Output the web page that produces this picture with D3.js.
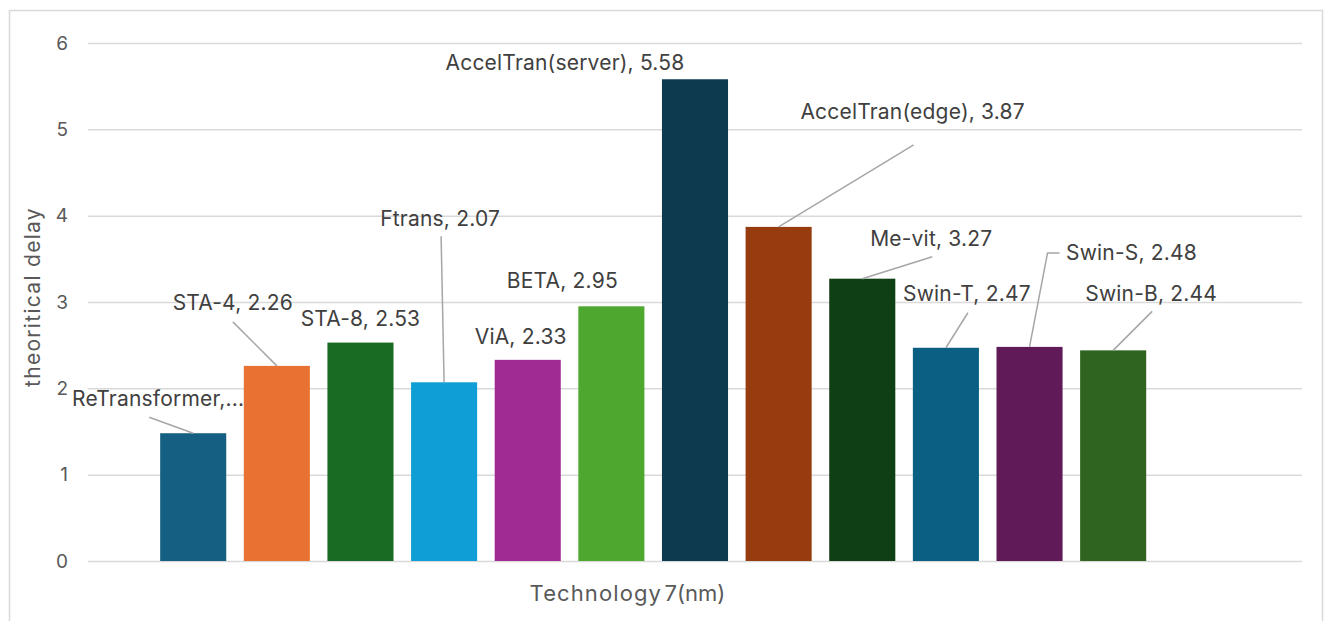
<!DOCTYPE html>
<html>
<head>
<meta charset="utf-8">
<script src="https://cdn.jsdelivr.net/npm/d3@7"></script>
<style>
  html, body { margin: 0; padding: 0; background: #ffffff; }
  svg { display: block; }
  text { font-family: Inter, "Open Sans", sans-serif; }
</style>
</head>
<body>
<svg id="chart" width="1328" height="621"></svg>
<script>
// ---- data ----
const category = ["7(nm)"];
const seriesNames = [
  "ReTransformer", "STA-4", "STA-8", "Ftrans", "ViA", "BETA",
  "AccelTran(server)", "AccelTran(edge)", "Me-vit", "Swin-T", "Swin-S", "Swin-B"
];
const delayValues = [1.48, 2.26, 2.53, 2.07, 2.33, 2.95, 5.58, 3.87, 3.27, 2.47, 2.48, 2.44];
const seriesColors = [
  "#156082", "#E97132", "#196B24", "#0F9ED5", "#A02B93", "#4EA72E",
  "#0E3A50", "#963C0F", "#0F3F15", "#0A5F82", "#5F1A57", "#2F6420"
];
const yTicks = [0, 1, 2, 3, 4, 5, 6];
// the first label is shortened to fit its slot
const labelTexts = seriesNames.map((n, i) =>
  i === 0 ? "ReTransformer,..." : `${n}, ${delayValues[i]}`);

// ---- label placement: offsets from each bar's top-centre, plus leader bends ----
const labelLayout = [
  { dx: -35,  dy: -35,  leader: [[-44, -16]] },
  { dx: -44,  dy: -63,  leader: [[-44, -44]] },
  { dx: 0,    dy: -24,  leader: null },
  { dx: -4,   dy: -164, leader: [[-3, -146]] },
  { dx: -7,   dy: -23,  leader: null },
  { dx: -49,  dy: -26,  leader: null },
  { dx: -130, dy: -17,  leader: null },
  { dx: 134,  dy: -115, leader: [[135, -82]] },
  { dx: 69,   dy: -40,  leader: [[70, -22]] },
  { dx: 21,   dy: -54,  leader: [[22, -35]] },
  { dx: 102,  dy: -94,  leader: [[30, -94], [18, -94]] },
  { dx: 38,   dy: -57,  leader: [[39, -39]] }
];

// ---- layout ----
const svg = d3.select("#chart");
const plot = { left: 88, right: 1302, top: 43, bottom: 561 };

// outer chart frame (continues past the bottom edge)
svg.append("path")
  .attr("d", `M9.5,640 V10.5 H1322.5 V640`)
  .attr("fill", "none")
  .attr("stroke", "#D9D9D9")
  .attr("stroke-width", 1.5);

const y = d3.scaleLinear().domain([0, 6]).range([plot.bottom, plot.top]);

// one category; the cluster holds the 12 series plus one empty slot
const x0 = d3.scaleBand().domain(category)
  .range([plot.left, plot.right])
  .paddingInner(0).paddingOuter(0.0583);
const slots = seriesNames.concat([""]);
const x1 = d3.scaleBand().domain(slots)
  .range([0, x0.bandwidth()])
  .paddingInner(0.21).paddingOuter(0.105);

// gridlines + y tick labels
const yAxis = d3.axisLeft(y).tickValues(yTicks)
  .tickSize(-(plot.right - plot.left)).tickPadding(20)
  .tickFormat(d3.format("d"));
const gy = svg.append("g").attr("transform", `translate(${plot.left},0)`).call(yAxis);
gy.select(".domain").remove();
gy.selectAll(".tick line").attr("stroke", "#D9D9D9").attr("stroke-width", 1.5);
gy.selectAll(".tick text")
  .attr("fill", "#595959")
  .style("font-size", "19px")
  .style("font-family", "Inter, sans-serif");

// bars
const cx = (i) => x0(category[0]) + x1(seriesNames[i]) + x1.bandwidth() / 2;
svg.append("g").selectAll("rect")
  .data(delayValues)
  .join("rect")
  .attr("x", (d, i) => x0(category[0]) + x1(seriesNames[i]))
  .attr("y", d => y(d))
  .attr("width", x1.bandwidth())
  .attr("height", d => y(0) - y(d))
  .attr("fill", (d, i) => seriesColors[i]);

// leader lines
const leaders = svg.append("g");
delayValues.forEach((v, i) => {
  const L = labelLayout[i];
  if (!L.leader) return;
  const bx = cx(i), by = y(v);
  const pts = L.leader.map(p => [bx + p[0], by + p[1]]).concat([[bx, by]]);
  leaders.append("path")
    .attr("d", d3.line()(pts))
    .attr("fill", "none")
    .attr("stroke", "#A6A6A6")
    .attr("stroke-width", 1.5);
});

// data labels
svg.append("g").selectAll("text")
  .data(delayValues)
  .join("text")
  .attr("x", (d, i) => cx(i) + labelLayout[i].dx)
  .attr("y", (d, i) => y(d) + labelLayout[i].dy)
  .attr("text-anchor", "middle")
  .attr("dominant-baseline", "central")
  .attr("fill", "#404040")
  .style("font-size", "21px")
  .style("letter-spacing", "0.2px")
  .text((d, i) => labelTexts[i]);

// category label under the axis
const catX = x0(category[0]) + x0.bandwidth() / 2;
svg.append("text")
  .attr("x", catX).attr("y", 593)
  .attr("text-anchor", "middle")
  .attr("dominant-baseline", "central")
  .attr("fill", "#595959")
  .style("font-size", "22px")
  .text(category[0]);

// x axis title
svg.append("text")
  .attr("x", 662).attr("y", 593)
  .attr("text-anchor", "end")
  .attr("dominant-baseline", "central")
  .attr("fill", "#595959")
  .style("font-size", "22px")
  .style("letter-spacing", "1.1px")
  .text("Technology");

// y axis title
svg.append("text")
  .attr("transform", "translate(32,297) rotate(-90)")
  .attr("text-anchor", "middle")
  .attr("dominant-baseline", "central")
  .attr("fill", "#595959")
  .style("font-size", "21px")
  .style("letter-spacing", "1.3px")
  .text("theoritical delay");
</script>
</body>
</html>
